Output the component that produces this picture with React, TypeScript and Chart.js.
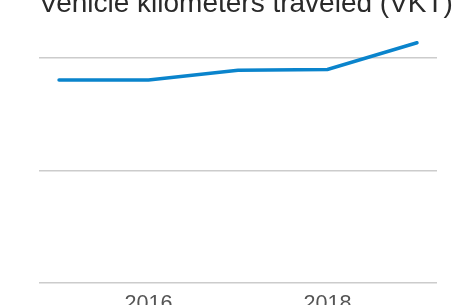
import React, { useEffect, useRef } from "react";
import { Chart, registerables } from "chart.js";

Chart.register(...registerables);

const titleText = "Vehicle kilometers traveled (VKT)";
const years = [2015, 2016, 2017, 2018, 2019];
const vktValues = [90.2, 90.2, 94.6, 94.9, 106.8];
const yGridTicks = [0, 50, 100];
const xTickLabels = [2016, 2018];

const titlePlugin = {
  id: "freeTitle",
  afterDraw(chart: any) {
    const { ctx, chartArea } = chart;
    ctx.save();
    ctx.font = "normal 28px 'Liberation Sans', Arial, sans-serif";
    ctx.fillStyle = "#2a2a2a";
    ctx.textAlign = "left";
    ctx.textBaseline = "alphabetic";
    ctx.fillText(titleText, chartArea.left, 12);
    ctx.restore();
  },
};

export default function App() {
  const ref = useRef<HTMLCanvasElement | null>(null);

  useEffect(() => {
    document.body.style.margin = "0";
    const ctx = ref.current!.getContext("2d")!;
    const chart = new Chart(ctx, {
      type: "line",
      data: {
        datasets: [
          {
            label: "VKT",
            data: years.map((y, i) => ({ x: y, y: vktValues[i] })),
            borderColor: "#0a84cc",
            borderWidth: 3.5,
            pointRadius: 0,
            tension: 0,
            fill: false,
            clip: false as any,
            borderCapStyle: "round",
          },
        ],
      },
      plugins: [titlePlugin],
      options: {
        animation: false,
        responsive: false,
        maintainAspectRatio: false,
        layout: { padding: { left: 39, right: 18, top: 31, bottom: 0 } },
        plugins: {
          legend: { display: false },
          tooltip: { enabled: false },
          title: { display: false },
        },
        scales: {
          x: {
            type: "linear",
            min: 2014.776,
            max: 2019.224,
            grid: { display: false, drawTicks: false },
            border: { display: false },
            afterBuildTicks: (axis: any) => {
              axis.ticks = xTickLabels.map((v) => ({ value: v }));
            },
            ticks: {
              color: "#555",
              padding: 8,
              maxRotation: 0,
              autoSkip: false,
              font: { family: "'Liberation Sans', Arial, sans-serif", size: 21.6 },
              callback: (v: any) => String(v),
            },
          },
          y: {
            min: 0,
            max: 112,
            grid: { color: "#cccccc", lineWidth: 1.5, drawTicks: false },
            border: { display: false },
            afterBuildTicks: (axis: any) => {
              axis.ticks = yGridTicks.map((v) => ({ value: v }));
            },
            ticks: { display: false },
          },
        },
      },
    });
    return () => chart.destroy();
  }, []);

  return (
    <div style={{ position: "fixed", left: 0, top: 0, width: 455, height: 305, overflow: "hidden", background: "#fff" }}>
      <canvas ref={ref} width={455} height={325} style={{ position: "absolute", left: 0, top: 0, width: 455, height: 325 }} />
    </div>
  );
}
